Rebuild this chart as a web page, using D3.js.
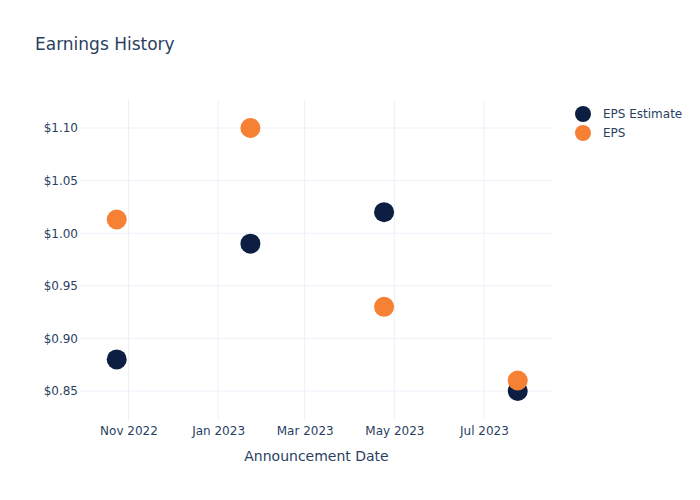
<!DOCTYPE html>
<html>
<head>
<meta charset="utf-8">
<script src="https://cdn.jsdelivr.net/npm/d3@7"></script>
<style>
  body { margin: 0; background: #fff; }
  svg { font-family: "DejaVu Sans", "Open Sans", sans-serif; }
</style>
</head>
<body>
<svg id="chart" width="700" height="500"></svg>
<script>
const dates = ["2022-10-24", "2023-01-23", "2023-04-24", "2023-07-24"];
const epsEstimate = [0.88, 0.99, 1.02, 0.85];
const epsActual = [1.013, 1.10, 0.93, 0.86];
const seriesNames = ["EPS Estimate", "EPS"];
const seriesColors = ["#0c1f42", "#f68135"];
const xTickDates = ["2022-11-01", "2023-01-01", "2023-03-01", "2023-05-01", "2023-07-01"];
const yTickValues = [0.85, 0.90, 0.95, 1.00, 1.05, 1.10];

const parse = d3.utcParse("%Y-%m-%d");
const svg = d3.select("#chart");
const W = 700, H = 500;
const m = { left: 80, right: 147, top: 100, bottom: 80 };
const pw = W - m.left - m.right, ph = H - m.top - m.bottom;

const x = d3.scaleUtc()
  .domain([parse("2022-09-29"), parse("2023-08-17")])
  .range([m.left, m.left + pw]);
const y = d3.scaleLinear()
  .domain([0.8224, 1.1266])
  .range([m.top + ph, m.top]);

const textColor = "#2a3f5f";
const gridColor = "#ebf0f8";

// grid
const g = svg.append("g");
g.selectAll(".vgrid").data(xTickDates).join("line")
  .attr("x1", d => x(parse(d))).attr("x2", d => x(parse(d)))
  .attr("y1", m.top).attr("y2", m.top + ph)
  .attr("stroke", gridColor).attr("stroke-width", 1);
g.selectAll(".hgrid").data(yTickValues).join("line")
  .attr("x1", m.left).attr("x2", m.left + pw)
  .attr("y1", d => y(d)).attr("y2", d => y(d))
  .attr("stroke", gridColor).attr("stroke-width", 1);

// axes
const xAxis = d3.axisBottom(x)
  .tickValues(xTickDates.map(parse))
  .tickFormat(d3.utcFormat("%b %Y"))
  .tickSize(0).tickPadding(6);
const xg = svg.append("g").attr("transform", `translate(0,${m.top + ph})`).call(xAxis);
xg.select(".domain").remove();
xg.selectAll("text").attr("fill", textColor).attr("font-size", 12).attr("font-family", "DejaVu Sans, sans-serif");

const yAxis = d3.axisLeft(y)
  .tickValues(yTickValues)
  .tickFormat(d => "$" + d3.format(".2f")(d))
  .tickSize(0).tickPadding(2);
const yg = svg.append("g").attr("transform", `translate(${m.left},0)`).call(yAxis);
yg.select(".domain").remove();
yg.selectAll("text").attr("fill", textColor).attr("font-size", 12).attr("font-family", "DejaVu Sans, sans-serif");

// axis title
svg.append("text")
  .attr("x", m.left + pw / 2).attr("y", 461)
  .attr("text-anchor", "middle").attr("fill", textColor).attr("font-size", 14)
  .text("Announcement Date");

// title
svg.append("text")
  .attr("x", 35).attr("y", 50)
  .attr("fill", textColor).attr("font-size", 17)
  .text("Earnings History");

// points
const series = [epsEstimate, epsActual];
series.forEach((vals, si) => {
  svg.append("g").selectAll("circle")
    .data(vals.map((v, i) => ({ d: parse(dates[i]), v })))
    .join("circle")
    .attr("cx", d => x(d.d)).attr("cy", d => y(d.v))
    .attr("r", 10)
    .attr("fill", seriesColors[si]);
});

// legend
const lg = svg.append("g");
seriesNames.forEach((name, i) => {
  const yy = 114 + i * 19;
  lg.append("circle").attr("cx", 583).attr("cy", yy).attr("r", 8).attr("fill", seriesColors[i]);
  lg.append("text").attr("x", 603).attr("y", yy + 4)
    .attr("fill", textColor).attr("font-size", 12).text(name);
});
</script>
</body>
</html>
